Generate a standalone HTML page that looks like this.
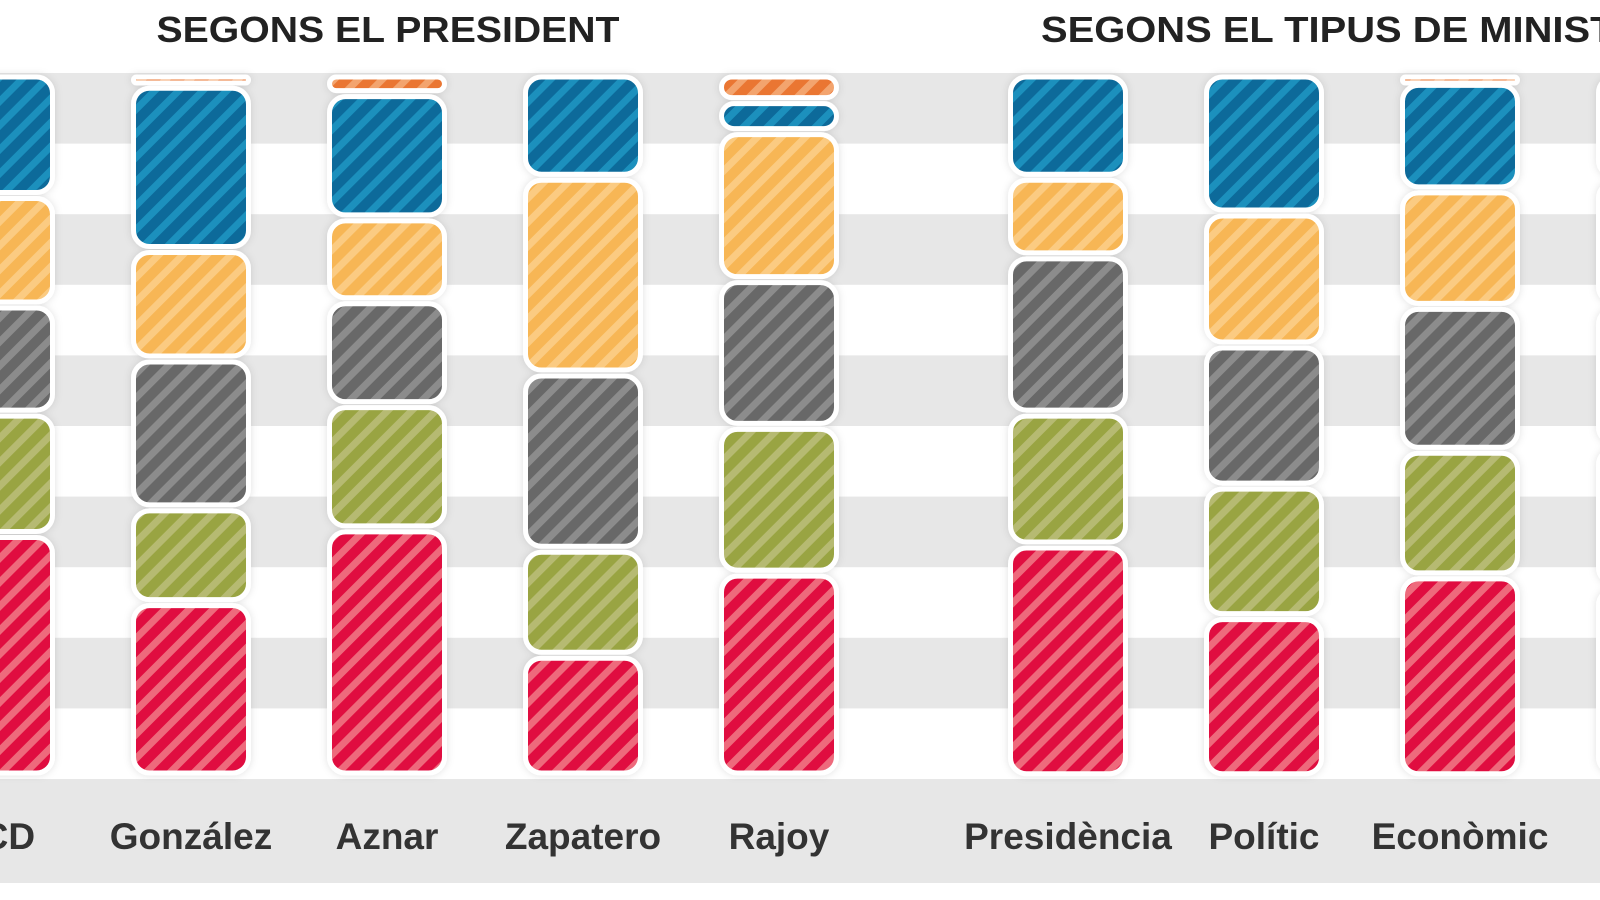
<!DOCTYPE html>
<html><head><meta charset="utf-8"><style>
html,body{margin:0;padding:0;background:#fff;overflow:hidden}
svg{display:block}
</style></head><body>
<svg id="chart" width="1600" height="900" viewBox="0 0 1600 900">
<defs>
<filter id="sh" x="-20%" y="-20%" width="140%" height="140%"><feDropShadow dx="0" dy="0" stdDeviation="4" flood-color="#000" flood-opacity="0.12"/></filter>
</defs>
<g id="bands"></g>
<g id="bars"></g>
<g id="labels"></g>
<text x="388" y="42" text-anchor="middle" font-family="Liberation Sans, sans-serif" font-weight="bold" font-size="36" fill="#222" textLength="463" lengthAdjust="spacingAndGlyphs">SEGONS EL PRESIDENT</text>
<text x="1041" y="42" font-family="Liberation Sans, sans-serif" font-weight="bold" font-size="36" fill="#222" textLength="640" lengthAdjust="spacingAndGlyphs">SEGONS EL TIPUS DE MINISTERI</text>
</svg>
<script>
const categories = ["UCD","González","Aznar","Zapatero","Rajoy","Presidència","Polític","Econòmic","Social"];
const seriesNames = ["orange","blue","yellow","gray","green","red"];
const orangeVals = [0, 1.6, 2.8, 0, 3.8, 0, 0, 1.2, 0];
const blueVals   = [17.3, 23.4, 17.7, 14.7, 4.4, 14.7, 19.8, 15.3, 15];
const yellowVals = [15.6, 15.6, 11.8, 27.9, 21.1, 11.2, 18.8, 16.6, 18];
const grayVals   = [15.4, 21.2, 14.8, 25.1, 20.9, 22.4, 20.1, 20.5, 20];
const greenVals  = [17.3, 13.5, 17.7, 15.1, 20.9, 18.8, 18.6, 17.9, 20];
const redVals    = [34.4, 24.7, 35.2, 17.2, 28.9, 33.0, 22.8, 28.6, 27];

const NS="http://www.w3.org/2000/svg";
const svg=document.getElementById('chart');
const defs=svg.querySelector('defs');
const colors={orange:["#ea7633","#f3a46e"],blue:["#0b6a9a","#1b90bd"],yellow:["#f7b654","#fbcb82"],gray:["#676767","#8c8c8c"],green:["#99a443","#b6ba72"],red:["#e0103f","#ee6a7c"]};
seriesNames.forEach(s=>{
  const p=document.createElementNS(NS,'pattern');
  p.setAttribute('id','pat-'+s);p.setAttribute('width','17');p.setAttribute('height','17');
  p.setAttribute('patternUnits','userSpaceOnUse');p.setAttribute('patternTransform','rotate(45)');
  p.innerHTML='<rect width="17" height="17" fill="'+colors[s][0]+'"/><rect width="7" height="17" fill="'+colors[s][1]+'"/>';
  defs.appendChild(p);
});
const xCenter0=-5, xStep=196;
function xPos(i){return xCenter0+i*xStep+(i>=5?93:0);}
const yTop=74, yBot=776;
function yScale(v){return yTop+(yBot-yTop)*v/100;}
const bands=document.getElementById('bands');
for(let k=0;k<10;k++){
  if(k%2===0){
    const r=document.createElementNS(NS,'rect');
    r.setAttribute('x',0);r.setAttribute('y',73+k*70.6);r.setAttribute('width',1600);r.setAttribute('height',70.6);r.setAttribute('fill','#e7e7e7');
    
    
    bands.appendChild(r);
  }
}
const lb=document.createElementNS(NS,'rect');
lb.setAttribute('x',0);lb.setAttribute('y',779);lb.setAttribute('width',1600);lb.setAttribute('height',104);lb.setAttribute('fill','#e7e7e7');


bands.appendChild(lb);
const series=[orangeVals,blueVals,yellowVals,grayVals,greenVals,redVals];
const barsG=document.getElementById('bars');
const W=115, gap=6;
categories.forEach((c,i)=>{
  const g=document.createElementNS(NS,'g');
  
  
  g.setAttribute('filter','url(#sh)');
  let cum=0;
  series.forEach((arr,si)=>{
    const v=arr[i];
    if(v<=0)return;
    const y0=yScale(cum)+gap/2, y1=yScale(cum+v)-gap/2;
    cum+=v;
    let h=Math.max(y1-y0,6);
    const r=document.createElementNS(NS,'rect');
    r.setAttribute('x',xPos(i)-W/2);r.setAttribute('y',y0);r.setAttribute('width',W);r.setAttribute('height',h);
    const rad=Math.min(16,h/2);
    r.setAttribute('rx',rad);r.setAttribute('ry',rad);
    r.setAttribute('fill','url(#pat-'+seriesNames[si]+')');
    r.setAttribute('stroke','#fff');r.setAttribute('stroke-width','5');
    
    
    g.appendChild(r);
  });
  barsG.appendChild(g);
});
const labG=document.getElementById('labels');
categories.forEach((c,i)=>{
  const t=document.createElementNS(NS,'text');
  t.setAttribute('x',xPos(i));t.setAttribute('y',849);t.setAttribute('text-anchor','middle');
  t.setAttribute('font-family','Liberation Sans, sans-serif');t.setAttribute('font-weight','bold');
  t.setAttribute('font-size','37');t.setAttribute('fill','#333');
  t.textContent=c;
  
  
  labG.appendChild(t);
});
</script>
</body></html>
